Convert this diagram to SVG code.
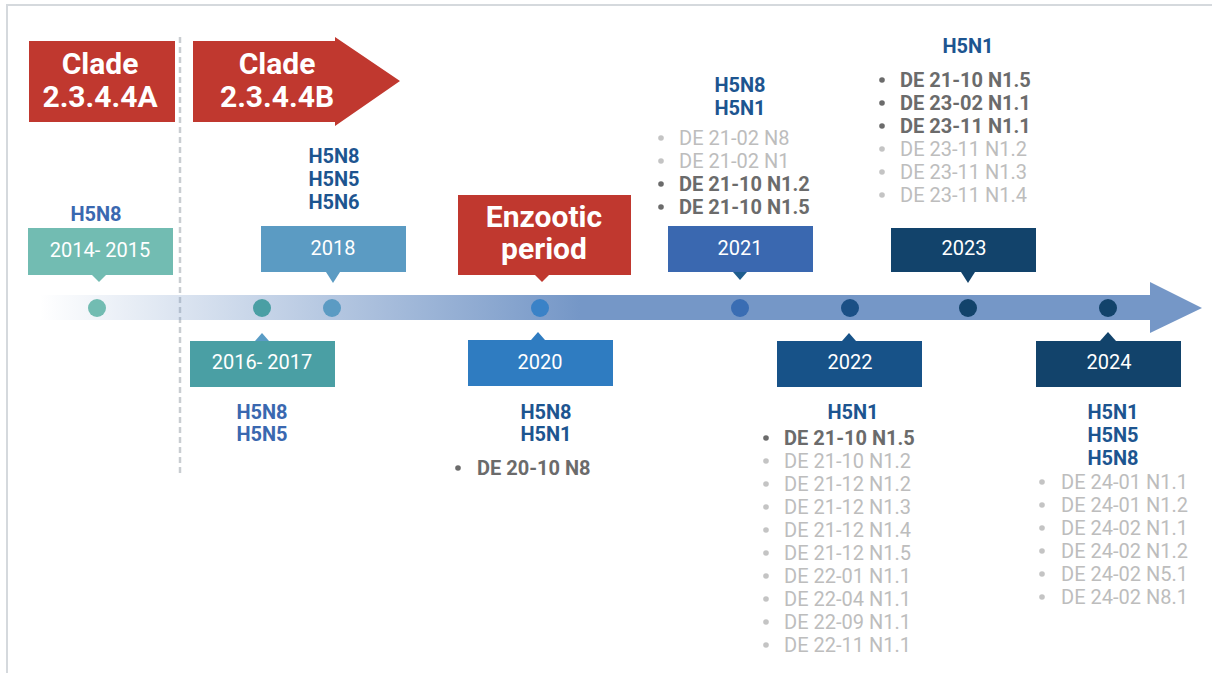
<svg xmlns="http://www.w3.org/2000/svg" width="1212" height="673" viewBox="0 0 1212 673">
<style>
  text { font-family: Roboto, "Liberation Sans", Arial, sans-serif; }
  .clade { font-size: 30px; font-weight: 700; fill: #ffffff; text-anchor: middle; }
  .yr { font-size: 20px; fill: #ffffff; text-anchor: middle; }
  .sub { font-size: 20px; font-weight: 700; text-anchor: middle; }
  .mid { fill: #3a68b0; }
  .dk { fill: #1d5590; }
  .b { font-size: 20px; font-weight: 700; fill: #6b6b6b; }
  .l { font-size: 20px; fill: #bdbdbd; }
  .bd { fill: #6b6b6b; }
  .ld { fill: #c4c4c4; }
</style>
<defs>
  <linearGradient id="band" gradientUnits="userSpaceOnUse" x1="40" y1="0" x2="580" y2="0">
    <stop offset="0" stop-color="#7597c7" stop-opacity="0"/>
    <stop offset="1" stop-color="#7597c7" stop-opacity="1"/>
  </linearGradient>
</defs>
<rect width="1212" height="673" fill="#ffffff"/>
<g id="frame" fill="none" stroke="#d5d9dd" stroke-width="2">
  <path d="M7,673 V5 H1212"/>
</g>
<g id="connectors">
  <line x1="180" y1="37" x2="180" y2="477" stroke="#c9cdd1" stroke-width="2.5" stroke-dasharray="6 4"/>
  <polygon points="40,295 1150,295 1150,282 1202,308 1150,333 1150,320 40,320" fill="url(#band)"/>
</g>
<g id="clade-a">
  <rect x="29" y="41" width="146" height="81" fill="#c0382f"/>
  <text class="clade" x="100" y="74">Clade</text>
  <text class="clade" x="100" y="107">2.3.4.4A</text>
</g>
<g id="clade-b">
  <polygon points="193,41 335,41 335,37 400,81 335,126 335,122 193,122" fill="#c0382f"/>
  <text class="clade" x="277" y="74">Clade</text>
  <text class="clade" x="277" y="107">2.3.4.4B</text>
</g>
<g id="y2014">
  <circle cx="97" cy="308" r="9" fill="#72bcb2"/>
  <rect x="28" y="228" width="145" height="47" fill="#72bcb2"/>
  <polygon points="92,275 106,275 99,282" fill="#72bcb2"/>
  <text class="yr" x="100" y="257">2014- 2015</text>
  <text class="sub mid" x="96" y="221">H5N8</text>
</g>
<g id="y2016">
  <circle cx="262" cy="308" r="9" fill="#4a9fa4"/>
  <rect x="190" y="341" width="145" height="46" fill="#4a9fa4"/>
  <polygon points="255,341 269,341 262,333" fill="#5a9cc5"/>
  <text class="yr" x="262" y="369">2016- 2017</text>
  <text class="sub mid" x="262" y="419">H5N8</text>
  <text class="sub mid" x="262" y="441">H5N5</text>
</g>
<g id="y2018">
  <circle cx="332" cy="308" r="9" fill="#5b9bc3"/>
  <rect x="261" y="226" width="145" height="46" fill="#5b9bc3"/>
  <polygon points="326,272 340,272 333,283" fill="#5b9bc3"/>
  <text class="yr" x="333" y="255">2018</text>
  <text class="sub dk" x="334" y="163">H5N8</text>
  <text class="sub dk" x="334" y="186">H5N5</text>
  <text class="sub dk" x="334" y="209">H5N6</text>
</g>
<g id="enzootic">
  <rect x="458" y="195" width="173" height="80" fill="#c0382f"/>
  <polygon points="535,275 549,275 542,282" fill="#c0382f"/>
  <text class="clade" x="544" y="227">Enzootic</text>
  <text class="clade" x="544" y="259">period</text>
</g>
<g id="y2020">
  <circle cx="540" cy="308" r="9" fill="#3a82c7"/>
  <rect x="468" y="340" width="145" height="46" fill="#2f7cc1"/>
  <polygon points="531,340 545,340 538,332" fill="#2f7cc1"/>
  <text class="yr" x="540" y="369">2020</text>
  <text class="sub dk" x="546" y="419">H5N8</text>
  <text class="sub dk" x="546" y="441">H5N1</text>
  <circle cx="458" cy="468" r="2.8" class="bd"/>
  <text class="b" x="477" y="475">DE 20-10 N8</text>
</g>
<g id="y2021">
  <circle cx="740" cy="308" r="9" fill="#3a6db3"/>
  <rect x="668" y="226" width="145" height="46" fill="#3a68b0"/>
  <polygon points="733,272 747,272 740,280" fill="#1f5d8e"/>
  <text class="yr" x="740" y="255">2021</text>
  <text class="sub dk" x="740" y="92">H5N8</text>
  <text class="sub dk" x="740" y="115">H5N1</text>
  <circle cx="661" cy="138" r="2.8" class="ld"/>
  <text class="l" x="679" y="145">DE 21-02 N8</text>
  <circle cx="661" cy="161" r="2.8" class="ld"/>
  <text class="l" x="679" y="168">DE 21-02 N1</text>
  <circle cx="661" cy="184" r="2.8" class="bd"/>
  <text class="b" x="679" y="191">DE 21-10 N1.2</text>
  <circle cx="661" cy="207" r="2.8" class="bd"/>
  <text class="b" x="679" y="214">DE 21-10 N1.5</text>
</g>
<g id="y2022">
  <circle cx="850" cy="308" r="9" fill="#1a4f85"/>
  <rect x="777" y="341" width="145" height="46" fill="#175288"/>
  <polygon points="842,341 856,341 849,333" fill="#175288"/>
  <text class="yr" x="850" y="369">2022</text>
  <text class="sub dk" x="853" y="419">H5N1</text>
  <circle cx="766" cy="438" r="2.8" class="bd"/>
  <text class="b" x="784" y="445">DE 21-10 N1.5</text>
  <circle cx="766" cy="461" r="2.8" class="ld"/>
  <text class="l" x="784" y="468">DE 21-10 N1.2</text>
  <circle cx="766" cy="484" r="2.8" class="ld"/>
  <text class="l" x="784" y="491">DE 21-12 N1.2</text>
  <circle cx="766" cy="507" r="2.8" class="ld"/>
  <text class="l" x="784" y="514">DE 21-12 N1.3</text>
  <circle cx="766" cy="530" r="2.8" class="ld"/>
  <text class="l" x="784" y="537">DE 21-12 N1.4</text>
  <circle cx="766" cy="553" r="2.8" class="ld"/>
  <text class="l" x="784" y="560">DE 21-12 N1.5</text>
  <circle cx="766" cy="576" r="2.8" class="ld"/>
  <text class="l" x="784" y="583">DE 22-01 N1.1</text>
  <circle cx="766" cy="599" r="2.8" class="ld"/>
  <text class="l" x="784" y="606">DE 22-04 N1.1</text>
  <circle cx="766" cy="622" r="2.8" class="ld"/>
  <text class="l" x="784" y="629">DE 22-09 N1.1</text>
  <circle cx="766" cy="645" r="2.8" class="ld"/>
  <text class="l" x="784" y="652">DE 22-11 N1.1</text>
</g>
<g id="y2023">
  <circle cx="968" cy="308" r="9" fill="#12436b"/>
  <rect x="891" y="228" width="145" height="44" fill="#12436b"/>
  <polygon points="961,272 975,272 968,283" fill="#12436b"/>
  <text class="yr" x="964" y="255">2023</text>
  <text class="sub dk" x="968" y="53">H5N1</text>
  <circle cx="882" cy="80" r="2.8" class="bd"/>
  <text class="b" x="900" y="87">DE 21-10 N1.5</text>
  <circle cx="882" cy="103" r="2.8" class="bd"/>
  <text class="b" x="900" y="110">DE 23-02 N1.1</text>
  <circle cx="882" cy="126" r="2.8" class="bd"/>
  <text class="b" x="900" y="133">DE 23-11 N1.1</text>
  <circle cx="882" cy="149" r="2.8" class="ld"/>
  <text class="l" x="900" y="156">DE 23-11 N1.2</text>
  <circle cx="882" cy="172" r="2.8" class="ld"/>
  <text class="l" x="900" y="179">DE 23-11 N1.3</text>
  <circle cx="882" cy="195" r="2.8" class="ld"/>
  <text class="l" x="900" y="202">DE 23-11 N1.4</text>
</g>
<g id="y2024">
  <circle cx="1108" cy="308" r="9" fill="#12436b"/>
  <rect x="1036" y="341" width="145" height="46" fill="#12436b"/>
  <polygon points="1100,341 1116,341 1108,332" fill="#12436b"/>
  <text class="yr" x="1109" y="369">2024</text>
  <text class="sub dk" x="1113" y="419">H5N1</text>
  <text class="sub dk" x="1113" y="442">H5N5</text>
  <text class="sub dk" x="1113" y="465">H5N8</text>
  <circle cx="1042" cy="482" r="2.8" class="ld"/>
  <text class="l" x="1061" y="489">DE 24-01 N1.1</text>
  <circle cx="1042" cy="505" r="2.8" class="ld"/>
  <text class="l" x="1061" y="512">DE 24-01 N1.2</text>
  <circle cx="1042" cy="528" r="2.8" class="ld"/>
  <text class="l" x="1061" y="535">DE 24-02 N1.1</text>
  <circle cx="1042" cy="551" r="2.8" class="ld"/>
  <text class="l" x="1061" y="558">DE 24-02 N1.2</text>
  <circle cx="1042" cy="574" r="2.8" class="ld"/>
  <text class="l" x="1061" y="581">DE 24-02 N5.1</text>
  <circle cx="1042" cy="597" r="2.8" class="ld"/>
  <text class="l" x="1061" y="604">DE 24-02 N8.1</text>
</g>
</svg>
